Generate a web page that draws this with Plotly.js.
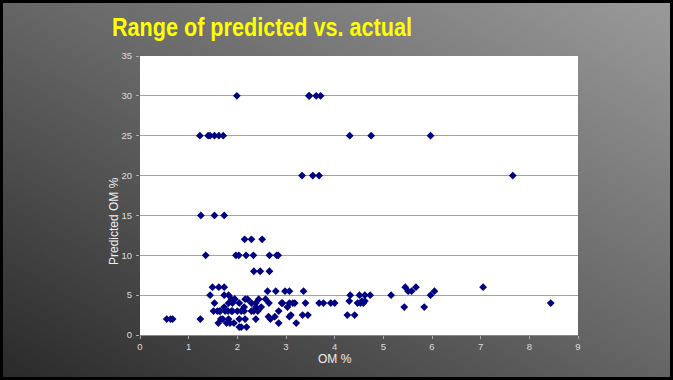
<!DOCTYPE html>
<html>
<head>
<meta charset="utf-8">
<script src="https://cdn.plot.ly/plotly-3.0.1.min.js"></script>
<style>
html,body{margin:0;padding:0;background:#000;}
#frame{position:absolute;left:0;top:0;width:673px;height:380px;box-sizing:border-box;border:3px solid #000;
background:linear-gradient(to top right,#2a2a2a 0%,#656565 50%,#9a9a9a 100%);}
#chart{position:absolute;left:-3px;top:-3px;width:673px;height:380px;}
</style>
</head>
<body>
<div id="frame"><div id="chart"></div></div>
<script>
const titleText = "Range of predicted vs. actual";
const xTitle = "OM %";
const yTitle = "Predicted OM %";

const actualOM = [
  0.55,0.63,0.67,
  1.25,1.53,1.73,1.35,1.24,1.44,1.49,1.62,1.73,1.53,1.51,1.59,1.63,1.61,1.66,1.70,1.73,1.82,1.73,1.82,
  1.81,1.90,1.78,1.85,1.82,1.93,1.90,1.95,1.97,2.03,2.18,2.33,2.15,2.29,2.51,2.34,2.47,2.66,2.81,2.84,2.66,
  2.04,2.00,2.04,2.04,2.08,2.19,2.14,2.14,2.16,2.21,2.16,2.29,2.29,2.38,2.38,2.38,2.42,2.44,2.49,2.34,
  2.58,2.62,2.65,2.64,2.68,2.77,2.79,2.85,2.85,2.91,2.93,2.98,3.03,3.07,3.07,3.07,3.10,3.14,3.18,3.21,
  3.36,3.34,3.40,3.45,3.68,3.77,3.92,4.00,
  1.65,1.75,1.88,2.08,1.88,1.94,
  1.99,3.47,3.48,3.62,3.71,
  1.23,1.40,1.44,1.53,1.62,1.71,4.31,4.75,5.97,
  3.33,3.55,3.68,7.66,
  4.26,4.41,4.32,4.30,4.47,4.51,4.53,4.56,4.59,4.62,4.62,4.73,5.16,5.43,5.45,5.51,5.58,5.67,5.84,5.97,6.05,7.05,8.44
];
const predictedOM = [
  2,2,2,
  15,15,15,10,2,5,6,6,6,4,3,3,3,1.5,2,2,5,5,3.5,4,
  3,3,1.5,1.5,2,1.5,4,4.5,10,10,10,10,12,12,12,8,8,10,10,10,8,
  4,3,2,1,1,1,3,3.5,4.5,4.5,2,4,3,2,3.5,4,3,4.5,3.5,3,
  4.5,5.5,4,2.3,2,2.3,5.5,3,1.5,4,4,5.5,3.5,4,5.5,2.3,2.5,4,4,1.5,
  5.5,2.5,4,2.5,4,4,4,4,
  3,3,3,3,4.5,4.5,
  30,30,30,30,30,
  25,25,25,25,25,25,25,25,25,
  20,20,20,20,
  2.5,2.5,5,4.25,4,5,4,4.25,4,4.25,5,5,5,3.5,6,5.5,5.5,6,3.5,5,5.5,6,4
];

const trace = {
  x: actualOM, y: predictedOM, type: 'scatter', mode: 'markers',
  marker: {symbol: 'diamond', size: 6, color: '#000080'},
  hoverinfo: 'skip'
};

const baseFont = '"Liberation Sans", Arial, sans-serif';
const layout = {
  width: 673, height: 380,
  paper_bgcolor: 'rgba(0,0,0,0)', plot_bgcolor: '#ffffff',
  margin: {l: 140, r: 95, t: 56, b: 45},
  showlegend: false,
  title: {
    text: titleText, xref: 'container', yref: 'container',
    x: 262/673, xanchor: 'center', y: 1 - 27/380, yanchor: 'middle',
    font: {family: baseFont, size: 25, color: '#ffff00', weight: 'bold'}
  },
  xaxis: {
    range: [0, 9], dtick: 1, showgrid: false, zeroline: false,
    showline: true, linecolor: '#8a8a8a', linewidth: 1,
    ticks: 'outside', ticklen: 3, tickcolor: '#aaaaaa', ticklabelstandoff: 0,
    tickfont: {family: baseFont, size: 9.5, color: '#dddddd'}
  },
  yaxis: {
    range: [0, 35], dtick: 5, showgrid: true, gridcolor: '#a3a3a3', gridwidth: 1, zeroline: false,
    showline: false,
    ticks: 'outside', ticklen: 3, tickcolor: '#aaaaaa', ticklabelstandoff: 2,
    tickfont: {family: baseFont, size: 9.5, color: '#dddddd'}
  },
  annotations: [
    {text: xTitle, xref: 'paper', yref: 'paper', x: (335-140)/438, y: -(359-335)/279,
     xanchor: 'center', yanchor: 'middle', showarrow: false,
     font: {family: baseFont, size: 12, color: '#eeeeee'}},
    {text: yTitle, xref: 'paper', yref: 'paper', x: -(140-114)/438, y: (335-221)/279,
     xanchor: 'center', yanchor: 'middle', showarrow: false, textangle: -90,
     font: {family: baseFont, size: 12, color: '#eeeeee'}}
  ]
};

Plotly.newPlot('chart', [trace], layout, {displayModeBar: false, staticPlot: true}).then(function(){
  const t = document.querySelector('.gtitle');
  if (t) { t.setAttribute('textLength', '300'); t.setAttribute('lengthAdjust', 'spacingAndGlyphs'); }
});
</script>
</body>
</html>
